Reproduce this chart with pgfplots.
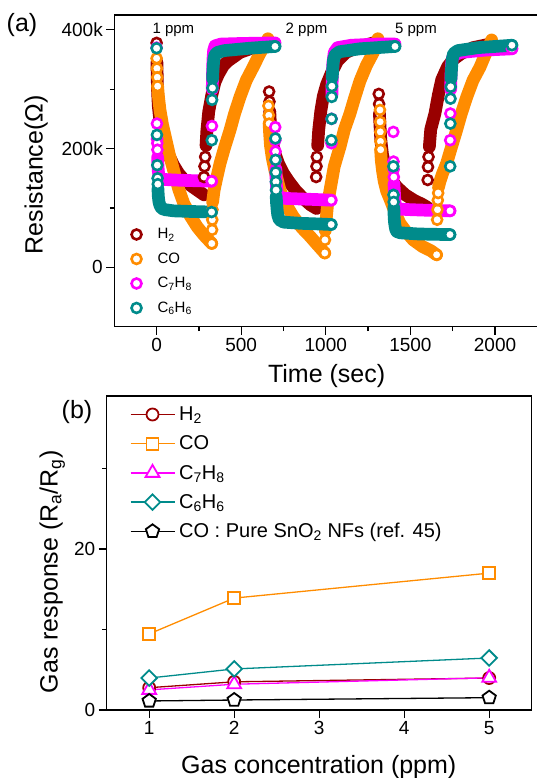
\documentclass[border=0pt]{standalone}
\usepackage{fontspec}
\setmainfont{Liberation Sans}
\usepackage{pgfplots}
\pgfplotsset{compat=1.18}
\usetikzlibrary{plotmarks}
\definecolor{hred}{HTML}{990000}
\definecolor{corange}{HTML}{FF8C00}
\definecolor{tmag}{HTML}{FF00FF}
\definecolor{bteal}{HTML}{008B8B}
\pgfplotsset{
  band/.style={no marks, line width=12.7pt, line cap=round, line join=round, forget plot},
  rings/.style={only marks, mark=*, mark size=5pt, mark options={line width=2.6pt, fill=white}, forget plot},
  ringleg/.style={only marks, mark=*, mark size=5pt, mark options={line width=2.6pt, fill=white}},
  myaxis/.style={scale only axis, tick align=outside, tick pos=left,
    axis line style={line width=1.3pt},
    major tick length=8pt, minor tick length=4.5pt,
    every tick/.style={black, line width=1.3pt},
    tick label style={font=\fontsize{19}{19}\selectfont},
    label style={font=\fontsize{25}{25}\selectfont},
    /pgf/number format/assume math mode=true,
    /pgf/number format/1000 sep={}},
}
\begin{document}
\begin{tikzpicture}[x=1pt,y=1pt]
\useasboundingbox (0,0) rectangle (536,778);
% ---------------- panel (a)
\begin{axis}[myaxis, at={(114.3pt,451.4pt)}, anchor=south west,
  width=424.7pt, height=311.6pt,
  xmin=-250, xmax=2260, ymin=-100, ymax=425,
  xtick={0,500,1000,1500,2000}, minor x tick num=1,
  ytick={0,200,400}, yticklabels={0,200k,400k}, minor y tick num=1,
  xlabel={Time (sec)}, ylabel={Resistance(Ω)},
  xlabel style={at={(axis description cs:0.5,-0.1585)}, anchor=center},
  ylabel style={at={(axis description cs:-0.184,0.487)}, anchor=center},
  legend style={at={(axis description cs:0.033,0.342)}, anchor=north west, draw=none, fill=none,
    font=\fontsize{15}{15}\selectfont, nodes={inner sep=0pt, minimum height=24.5pt},
    /tikz/every odd column/.append style={column sep=16pt}},
  legend cell align=left,
]
\addlegendimage{ringleg, hred}\addlegendentry{H\textsubscript{2}}
\addlegendimage{ringleg, corange}\addlegendentry{CO}
\addlegendimage{ringleg, tmag}\addlegendentry{C\textsubscript{7}H\textsubscript{8}}
\addlegendimage{ringleg, bteal}\addlegendentry{C\textsubscript{6}H\textsubscript{6}}
% H2
\addplot[band, hred] coordinates {(2,345)(4,315)(6,295)(10,272)(20,245)(40,215)(70,190)(100,172)(130,158)(160,148)(200,138)(240,130)(280,122)};
\addplot[band, hred] coordinates {(292,205)(297,230)(308,262)(326,290)(345,312)(365,325)(395,340)(424,348)(493,362)(592,372)(665,376)};
\addplot[band, hred] coordinates {(669,262)(672,245)(680,220)(695,195)(720,175)(750,158)(780,145)(820,130)(870,115)(910,105)(945,99)};
\addplot[band, hred] coordinates {(952,205)(958,231)(970,262)(985,288)(1005,308)(1034,328)(1070,348)(1120,362)(1200,372)(1310,380)};
\addplot[band, hred] coordinates {(1317,258)(1320,240)(1325,215)(1335,190)(1350,170)(1380,150)(1420,135)(1470,122)(1520,113)(1570,106)(1600,101)};
\addplot[band, hred] coordinates {(1612,203)(1620,232)(1645,259)(1665,290)(1685,316)(1720,338)(1753,350)(1800,360)(1870,370)(1970,376)};
\addplot[rings, hred] coordinates {(0,378)(280,152)(283,170)(287,186)(665,296)(667,279)(669,262)(943,152)(945,170)(947,186)(1313,292)(1315,275)(1317,258)(1602,147)(1604,169)(1607,186)};
% CO
\addplot[band, corange] coordinates {(6,305)(10,290)(20,265)(35,240)(55,215)(75,190)(100,164)(130,132)(160,108)(200,86)(240,68)(280,54)(326,40)};
\addplot[band, corange] coordinates {(331,110)(340,130)(355,150)(375,175)(400,200)(434,231)(460,258)(493,287)(530,315)(572,338)(610,360)(651,380)(658,385)};
\addplot[band, corange] coordinates {(665,242)(668,225)(673,205)(683,185)(700,162)(729,130)(760,108)(808,85)(860,66)(907,52)(950,38)(994,24)};
\addplot[band, corange] coordinates {(997,62)(1002,80)(1010,105)(1025,130)(1050,170)(1084,203)(1110,232)(1143,259)(1170,285)(1202,314)(1240,340)(1281,362)(1308,385)};
\addplot[band, corange] coordinates {(1324,198)(1328,180)(1335,163)(1345,145)(1360,128)(1379,115)(1410,92)(1438,74)(1480,58)(1517,46)(1570,35)(1620,28)(1655,21)};
\addplot[band, corange] coordinates {(1666,135)(1675,145)(1690,158)(1714,175)(1740,200)(1773,231)(1800,258)(1833,287)(1870,315)(1911,337)(1945,360)(1980,383)};
\addplot[rings, corange] coordinates {(0,352)(2,335)(4,320)(6,305)(326,40)(328,63)(329,80)(330,97)(661,272)(663,256)(665,242)(994,24)(995,46)(1320,265)(1321,245)(1322,228)(1323,212)(1324,198)(1655,21)(1658,80)(1660,97)(1662,113)(1664,125)};
% C7H8
\addplot[band, tmag] coordinates {(6,185)(8,172)(10,162)(14,154)(20,150)(40,148)(100,147)(200,146)(325,145)};
\addplot[band, tmag] coordinates {(329,300)(331,330)(333,350)(337,365)(345,373)(380,376)(500,377)(700,378)};
\addplot[band, tmag] coordinates {(705,165)(706,150)(708,138)(712,126)(720,119)(760,116)(850,115)(950,114)(1032,113)};
\addplot[band, tmag] coordinates {(1036,290)(1038,320)(1042,345)(1050,362)(1070,370)(1150,374)(1300,376)(1409,376)};
\addplot[band, tmag] coordinates {(1403,140)(1405,128)(1407,118)(1410,108)(1415,101)(1430,98)(1500,97)(1600,96)(1734,95)};
\addplot[band, tmag] coordinates {(1738,300)(1740,325)(1743,342)(1748,352)(1760,358)(1800,362)(1950,366)(2100,368)};
\addplot[rings, tmag] coordinates {(0,370)(2,242)(3,216)(4,209)(5,198)(325,145)(327,238)(701,236)(702,214)(703,195)(704,180)(1032,113)(1033,209)(1034,250)(1399,228)(1400,178)(1401,165)(1402,152)(1734,95)(1735,214)(1736,259)(2100,368)};
% C6H6
\addplot[band, bteal] coordinates {(8,132)(10,120)(14,110)(20,104)(30,99)(50,97)(100,95)(200,94)(325,93)};
\addplot[band, bteal] coordinates {(331,318)(334,336)(338,350)(345,358)(360,362)(400,365)(550,369)(700,372)};
\addplot[band, bteal] coordinates {(707,119)(709,108)(712,98)(716,88)(725,80)(750,76)(850,74)(950,73)(1032,72)};
\addplot[band, bteal] coordinates {(1038,320)(1042,338)(1046,350)(1055,358)(1080,363)(1200,368)(1409,372)};
\addplot[band, bteal] coordinates {(1402,100)(1403,92)(1404,84)(1406,76)(1409,70)(1413,64)(1420,60)(1440,58)(1550,56)(1734,55)};
\addplot[band, bteal] coordinates {(1740,318)(1743,335)(1747,350)(1755,360)(1780,365)(1900,370)(2100,374)};
\addplot[rings, bteal] coordinates {(0,369)(2,223)(4,172)(6,150)(7,140)(325,93)(326,214)(328,282)(330,302)(700,372)(702,217)(703,181)(704,160)(705,144)(706,130)(1032,72)(1033,214)(1034,250)(1035,287)(1036,305)(1409,372)(1399,170)(1400,122)(1401,110)(1734,55)(1735,170)(1736,242)(1737,284)(1738,304)(2100,374)};
\node[anchor=base, font=\fontsize{15}{15}\selectfont] at (axis cs:99,394) {1 ppm};
\node[anchor=base, font=\fontsize{15}{15}\selectfont] at (axis cs:886,394) {2 ppm};
\node[anchor=base, font=\fontsize{15}{15}\selectfont] at (axis cs:1533,394) {5 ppm};
\end{axis}
% ---------------- panel (b)
\begin{axis}[myaxis, at={(106.7pt,68pt)}, anchor=south west,
  width=425pt, height=314pt,
  xmin=0.5, xmax=5.5, ymin=0, ymax=39,
  xtick={1,2,3,4,5}, ytick={0,20}, minor ytick={10,30},
  xlabel={Gas concentration (ppm)},
  ylabel={Gas response (R\textsubscript{a}/R\textsubscript{g})},
  xlabel style={at={(axis description cs:0.499,-0.1815)}, anchor=center},
  ylabel style={at={(axis description cs:-0.128,0.44)}, anchor=center},
  legend style={at={(axis description cs:0.047,0.9946)}, anchor=north west, draw=none, fill=none,
    font=\fontsize{20}{20}\selectfont, nodes={inner sep=0pt, minimum height=29.2pt},
    /tikz/every odd column/.append style={column sep=4pt}},
  legend cell align=left,
  legend image code/.code={\draw[mark repeat=2,mark phase=2,#1] plot coordinates {(0pt,0pt) (22pt,0pt) (44pt,0pt)};},
]
\addplot[hred, line width=1.3pt, mark=*, mark size=6pt, mark options={line width=1.8pt, fill=white}] coordinates {(1,2.77)(2,3.5)(5,3.97)};
\addlegendentry{H\textsubscript{2}}
\addplot[corange, line width=1.3pt, mark=square*, mark size=6pt, mark options={line width=1.8pt, fill=white}] coordinates {(1,9.45)(2,13.9)(5,17.0)};
\addlegendentry{CO}
\addplot[tmag, line width=1.3pt, mark=triangle*, mark size=8pt, mark options={line width=1.8pt, fill=white}] coordinates {(1,2.5)(2,3.2)(5,4.0)};
\addlegendentry{C\textsubscript{7}H\textsubscript{8}}
\addplot[bteal, line width=1.3pt, mark=square*, mark size=5.5pt, mark options={rotate=45, line width=1.8pt, fill=white}] coordinates {(1,3.97)(2,5.1)(5,6.46)};
\addlegendentry{C\textsubscript{6}H\textsubscript{6}}
\addplot[black, line width=1.3pt, mark=pentagon*, mark size=7pt, mark options={line width=1.8pt, fill=white}] coordinates {(1,1.12)(2,1.24)(5,1.53)};
\addlegendentry{CO : Pure SnO\textsubscript{2} NFs (ref. 45)}
\end{axis}
\node[font=\fontsize{25}{25}\selectfont] at (22,753) {(a)};
\node[font=\fontsize{25}{25}\selectfont] at (77,366) {(b)};
\end{tikzpicture}
\end{document}
